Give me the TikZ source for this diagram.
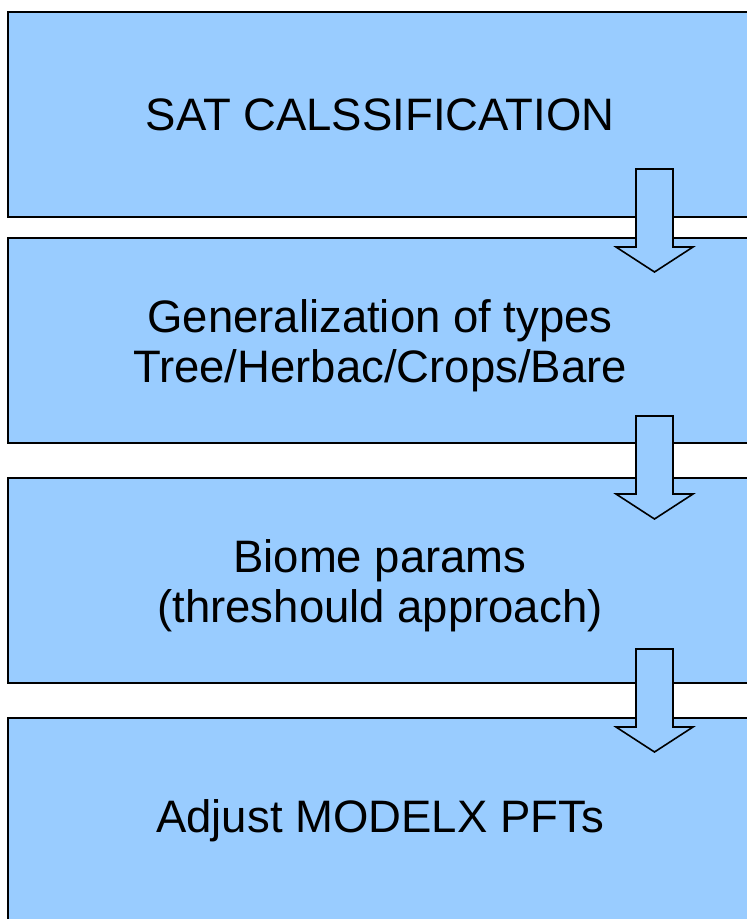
\documentclass[tikz,border=0pt]{standalone}
\usepackage{fontspec}
\setmainfont{Liberation Sans}
\usetikzlibrary{positioning,calc}

\definecolor{boxblue}{RGB}{153,204,255}

\tikzset{
    stagebox/.style={draw=black, line width=2pt, fill=boxblue, rectangle,
        minimum width=744pt, minimum height=205pt, outer sep=0pt,
        align=center, text=black, font=\fontsize{45.5}{50}\selectfont},
    arrowline/.style={draw=black, line width=1.6pt, fill=boxblue, line join=miter},
    pics/blockdown/.style={code={
        \draw[arrowline] (-18.5,0) -- (18.5,0) -- (18.5,78) -- (38.5,78)
            -- (0,103) -- (-38.5,78) -- (-18.5,78) -- cycle;
    }}
}

\begin{document}
\begin{tikzpicture}[x=1pt, y=-1pt]
\useasboundingbox (0,0) rectangle (747,919);

% Etapas
\node [stagebox] (sat) at (380,114.5) {SAT CALSSIFICATION};
\node [stagebox, below=21pt of sat] (gen) {\rule{0pt}{44pt}Generalization of types\\Tree/Herbac/Crops/Bare};
\node [stagebox, below=35pt of gen] (biome) {\rule{0pt}{44pt}Biome params\\(threshould approach)};
\node [stagebox, below=35pt of biome] (pft) {Adjust MODELX PFTs};

% Flechas entre etapas
\pic at ($(sat.south east)+(-97.5,-48)$) {blockdown};
\pic at ($(gen.south east)+(-97.5,-27)$) {blockdown};
\pic at ($(biome.south east)+(-97.5,-34)$) {blockdown};
\end{tikzpicture}
\end{document}
